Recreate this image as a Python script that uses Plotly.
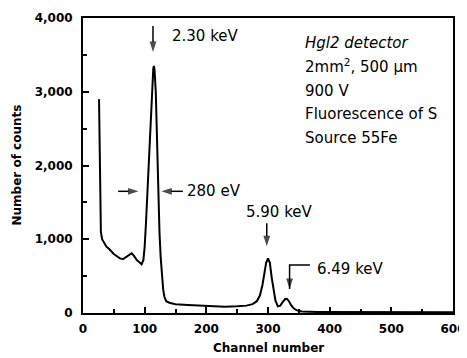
import plotly.graph_objects as go

channels = [26, 27, 28, 29, 31, 34, 38, 42, 46, 50, 55, 60, 65, 70, 75, 79, 83, 87, 91, 95,
            98, 100, 102, 104, 106, 108, 110, 112, 114, 115, 116, 118, 120, 122, 124, 126,
            128, 130, 132, 135, 140, 150, 170, 190, 210, 230, 250, 265, 275, 282, 287, 291,
            294, 297, 300, 303, 306, 309, 312, 316, 320, 324, 328, 331, 334, 338, 342, 347,
            355, 380, 450, 500, 550, 600]
counts = [2900, 2200, 1500, 1100, 1000, 950, 900, 870, 830, 800, 770, 740, 730, 760, 790, 810,
          770, 720, 690, 660, 720, 900, 1200, 1550, 1900, 2300, 2750, 3100, 3320, 3350, 3300,
          3000, 2300, 1600, 1100, 750, 480, 320, 220, 160, 140, 120, 110, 100, 90, 85, 90, 100,
          120, 160, 240, 380, 530, 680, 740, 680, 480, 300, 170, 90, 100, 150, 190, 190, 160,
          100, 60, 35, 20, 15, 12, 10, 10, 10]

x_ticks = [0, 100, 200, 300, 400, 500, 600]
y_ticks = [0, 1000, 2000, 3000, 4000]
x_title = "Channel number"
y_title = "Number of counts"

info_lines = ["<i>Hgl2 detector</i>", "2mm<sup>2</sup>, 500 µm", "900 V",
              "Fluorescence of S", "Source 55Fe"]
info_y = [3662, 3351, 3014, 2703, 2378]

# peak labels: (text, x, y, anchor)
peak_labels = [("2.30 keV", 141, 3757, "left"), ("280 eV", 165, 1650, "left"),
               ("5.90 keV", 319, 1365, "center"), ("6.49 keV", 376, 590, "left")]
# arrows: list of (xs, ys) polylines, head at the last point
arrows = [([113.5, 113.5], [3890, 3540]),
          ([57, 90], [1650, 1650]),
          ([162, 127], [1650, 1650]),
          ([298, 298], [1216, 905]),
          ([368, 335, 335], [650, 650, 325])]

FONT = "DejaVu Sans"

fig = go.Figure()
fig.add_trace(go.Scatter(x=channels, y=counts, mode="lines",
                         line=dict(color="black", width=2), hoverinfo="skip",
                         showlegend=False))

for xs, ys in arrows:
    fig.add_trace(go.Scatter(
        x=xs, y=ys, mode="lines+markers", showlegend=False, hoverinfo="skip",
        line=dict(color="black", width=1.5),
        marker=dict(symbol="arrow", angleref="previous", color="black",
                    size=[0] * (len(xs) - 1) + [11], line=dict(width=0))))

font_ann = dict(family=FONT, size=15, color="black")
anns = []
for t, x, y, anc in peak_labels:
    anns.append(dict(x=x, y=y, text=t, showarrow=False, xanchor=anc, font=font_ann))
for t, yy in zip(info_lines, info_y):
    anns.append(dict(x=357, y=yy, text=t, showarrow=False, xanchor="left", font=font_ann))

title_font = dict(family=FONT, size=12, color="black", weight="bold")
anns.append(dict(xref="paper", yref="paper", x=0.5, y=0, yshift=-35, text=x_title,
                 showarrow=False, xanchor="center", yanchor="middle", font=title_font))
anns.append(dict(xref="paper", yref="paper", x=0, y=0.5, xshift=-67, text=y_title,
                 textangle=-90, showarrow=False, xanchor="center", yanchor="middle",
                 font=title_font))

fig.update_layout(
    width=459, height=350,
    margin=dict(l=75, r=14, t=10, b=45, autoexpand=False),
    paper_bgcolor="white", plot_bgcolor="white",
    annotations=anns,
    font=dict(family=FONT, color="black"),
    xaxis=dict(range=[0, 600], tickvals=x_ticks, automargin=False,
               ticks="inside", ticklen=6, tickwidth=1.5, tickcolor="black",
               minor=dict(dtick=50, ticks="inside", ticklen=4, tickcolor="black"),
               showline=True, linecolor="black", linewidth=2, mirror=True,
               showgrid=False, zeroline=False, ticklabelstandoff=4,
               tickfont=dict(size=12, family=FONT, weight="bold")),
    yaxis=dict(range=[0, 4000], tickvals=y_ticks, tickformat=",d", automargin=False,
               ticks="inside", ticklen=6, tickwidth=1.5, tickcolor="black",
               minor=dict(dtick=500, ticks="inside", ticklen=4, tickcolor="black"),
               showline=True, linecolor="black", linewidth=2, mirror=True,
               showgrid=False, zeroline=False, ticklabelstandoff=6,
               tickfont=dict(size=12, family=FONT, weight="bold")),
)

fig.write_html("out.html")
